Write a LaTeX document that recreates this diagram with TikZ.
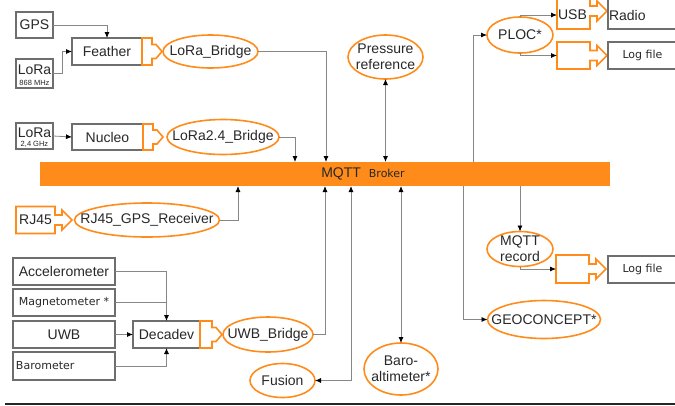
\documentclass[tikz,border=0pt]{standalone}
\usepackage{fontspec}
\setmainfont{Liberation Sans}
\newfontfamily\dvs{DejaVu Sans}
\usetikzlibrary{arrows.meta,shapes.geometric,calc}
\definecolor{orng}{RGB}{255,140,26}
\definecolor{bgray}{RGB}{110,110,110}
\definecolor{lgray}{RGB}{135,135,135}
\definecolor{txt}{RGB}{40,40,40}
\newcommand\oport[5]{%
  \draw[portline] (#1.north west) -- (#1.north east) -- ($(#1.east)+(0,-#3)$) -- ($(#1.east)+(#2,-#3)$) -- ($(#1.east)+(#2,-#4)$) -- ($(#1.east)+(#2+#5,0)$) -- ($(#1.east)+(#2,#4)$) -- ($(#1.east)+(#2,#3)$) -- ($(#1.east)+(0,#3)$) -- (#1.south east) -- (#1.south west) -- cycle;}
% #1 name, #2 x, #3 y, #4 width, #5 height, #6 text
\newcommand\oel[6]{%
  \draw[oline] (#2,#3) ellipse [x radius=#4/2, y radius=#5/2];
  \node[rectangle, align=center, minimum width=#4 pt, minimum height=#5 pt] (#1) at (#2,#3) {#6};}
\begin{document}
\begin{tikzpicture}[x=1pt,y=-1pt,
  every node/.style={inner sep=0pt, outer sep=0pt, font=\fontsize{14}{16}\selectfont, text=txt},
  gbox/.style={draw=bgray, line width=1.6pt, fill=white, rectangle},
  oline/.style={draw=orng, line width=1.6pt, fill=white},
  pnode/.style={rectangle},
  portline/.style={draw=orng, line width=1.6pt, fill=white, line join=miter},
  conn/.style={draw=lgray, line width=0.8pt},
  arr/.style={conn, -{Latex[length=6pt,width=5pt,color=black]}},
  darr/.style={conn, {Latex[length=6pt,width=5pt,color=black]}-{Latex[length=6pt,width=5pt,color=black]}},
  smalltxt/.style={font=\dvs\fontsize{11}{13}\selectfont},
  tinytxt/.style={font=\fontsize{7.5}{8}\selectfont}
]
\useasboundingbox (0,0) rectangle (675,405);
\clip (0,0) rectangle (675,405);

% ---------- broker ----------
\node[rectangle, fill=orng, minimum width=570pt, minimum height=24pt] (broker) at (325,174) {};
\node (brk) at (363,174) {MQTT\hspace{8pt}{\dvs\fontsize{11}{13}\selectfont Broker}};

% ---------- top left ----------
\node[gbox, minimum width=37pt, minimum height=26pt] (gps) at (34.5,25) {GPS};
\node[gbox, minimum width=37pt, minimum height=29pt] (lora1) at (34.5,73.5) {};
\node (lora1t) at (34.5,70) {LoRa};
\node[tinytxt] (lora1s) at (34.5,83) {868 MHz};
\node[gbox, minimum width=70pt, minimum height=27pt] (feather) at (107,51.5) {Feather};
\node[pnode, minimum width=10pt, minimum height=27pt] (fp) at (147,51.5) {};
\oport{fp}{4}{7}{7}{6}
\oel{lorab}{210.5}{51.5}{95}{33}{LoRa\_Bridge}

\node[gbox, minimum width=37pt, minimum height=26pt] (lora2) at (34.5,136) {};
\node (lora2t) at (34.5,132.5) {LoRa};
\node[tinytxt] (lora2s) at (34.5,144.5) {2,4 GHz};
\node[gbox, minimum width=71pt, minimum height=26pt] (nucleo) at (107.5,137) {Nucleo};
\node[pnode, minimum width=10pt, minimum height=26pt] (np) at (148,137) {};
\oport{np}{4}{7}{7}{6}
\oel{lora24b}{223}{137}{112}{35}{LoRa2.4\_Bridge}

\oel{press}{385.5}{57}{75}{44}{Pressure\\reference}

\draw[arr] (gps.east) -| (feather.north);
\draw[arr] (lora1.east) -- ++(9,0) |- (feather.west);
\draw[arr] (lora2.east) -- (nucleo.west);
\draw[arr] (lorab.east) -| (326,0 |- broker.north);
\draw[arr] (lora24b.east) -| (295,0 |- broker.north);
\draw[darr] (press.south) -- (press.south |- broker.north);

% ---------- top right ----------
\oel{ploc}{520}{35}{66}{36}{PLOC*}
\node[pnode, minimum width=33pt, minimum height=36pt] (usbp) at (573.5,11) {};
\oport{usbp}{7}{5}{10}{10}
\node (usbt) at (572.5,15) {USB};
\node[gbox, minimum width=90pt, minimum height=36pt] (radio) at (653,11) {};
\node[anchor=west] (radiot) at (609,15) {Radio};
\node[pnode, minimum width=33pt, minimum height=27pt] (lp1) at (573.5,55.5) {};
\oport{lp1}{7}{5}{10}{10}
\node[gbox, smalltxt, minimum width=69pt, minimum height=27pt] (log1) at (642.5,55.5) {Log file};

\draw[arr] (473,0 |- broker.north) |- (ploc.west);
\draw[arr] (ploc.north) |- ($(usbp.west)+(0,4)$);
\draw[arr] (ploc.south) |- (lp1.west);

% ---------- bottom right ----------
\oel{mqr}{520}{249}{66}{35}{MQTT\\record}
\node[pnode, minimum width=33pt, minimum height=28pt] (lp2) at (572.5,269) {};
\oport{lp2}{7}{5}{10}{10}
\node[gbox, smalltxt, minimum width=69pt, minimum height=27pt] (log2) at (642.5,269.5) {Log file};
\oel{geo}{544}{319.5}{113}{38}{GEOCONCEPT*}
\oel{baro}{401}{369}{74}{52}{Baro-\\altimeter*}
\oel{fus}{282.5}{380.5}{65}{34}{Fusion}

\draw[arr] (mqr.north |- broker.south) -- (mqr.north);
\draw[arr] (mqr.south) |- (lp2.west);
\draw[arr] (463,0 |- broker.south) |- (geo.west);
\draw[darr] (baro.north |- broker.south) -- (baro.north);
\draw[darr] (351,0 |- broker.south) |- (fus.east);

% ---------- bottom left ----------
\node[pnode, minimum width=39pt, minimum height=27pt] (rjp) at (35.5,220) {};
\oport{rjp}{7}{5}{10}{10}
\node (rjpt) at (35.5,220) {RJ45};
\oel{rjr}{147}{220}{145}{34}{RJ45\_GPS\_Receiver}
\draw[arr] (rjr.east) -| (238,0 |- broker.south);

\node[gbox, minimum width=102pt, minimum height=27pt] (acc) at (64,271.5) {Accelerometer};
\node[gbox, smalltxt, minimum width=102pt, minimum height=27pt] (mag) at (64,302.5) {Magnetometer *};
\node[gbox, minimum width=102pt, minimum height=27pt] (uwb) at (64,334.5) {UWB};
\node[gbox, smalltxt, minimum width=102pt, minimum height=28pt, text width=96pt, align=left] (barom) at (64,366) {Barometer};
\node[gbox, minimum width=67pt, minimum height=27pt] (deca) at (166.5,334.5) {Decadev};
\node[pnode, minimum width=12pt, minimum height=27pt] (dp) at (206,334.5) {};
\oport{dp}{4}{7}{7}{6}
\oel{uwbb}{268}{334.5}{90}{35}{UWB\_Bridge}

\draw[arr] (acc.east) -| (deca.north);
\draw[conn] (mag.east) -- (mag.east -| deca.north);
\draw[arr] (uwb.east) -- (deca.west);
\draw[arr] (barom.east) -| (deca.south);
\draw[arr] (uwbb.east) -| (325,0 |- broker.south);

% ---------- bottom rule ----------
\draw[line width=1.4pt, black!85] (5,404) -- (680,404);
\end{tikzpicture}
\end{document}
